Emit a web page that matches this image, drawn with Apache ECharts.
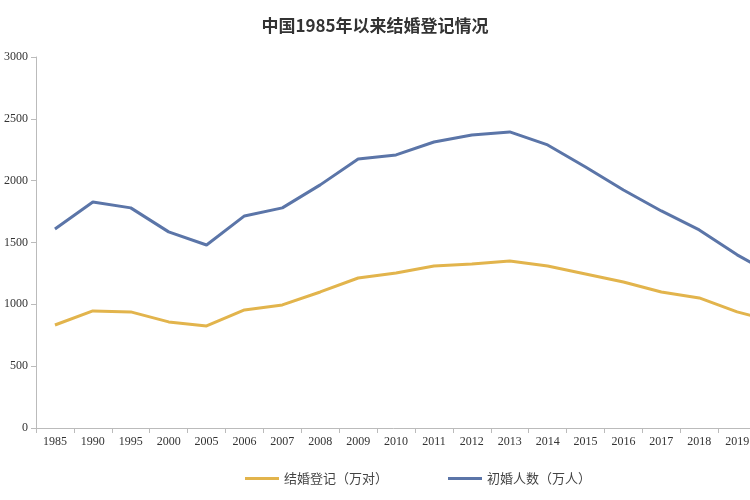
<!DOCTYPE html>
<html>
<head>
<meta charset="UTF-8">
<script src="https://cdn.jsdelivr.net/npm/echarts@6/dist/echarts.min.js"></script>
<style>
  html, body { margin: 0; padding: 0; background: #fff; }
  #chart { width: 750px; height: 500px; }
</style>
</head>
<body>
<div id="chart"></div>
<script>
// 年份（2020 在图片右边界外，仅露出一部分）
var years = ['1985','1990','1995','2000','2005','2006','2007','2008','2009','2010',
             '2011','2012','2013','2014','2015','2016','2017','2018','2019','2020'];
var marriageReg = [833, 947, 939, 858, 825, 955, 995, 1100, 1213, 1254,
                   1310, 1327, 1351, 1310, 1246, 1181, 1100, 1052, 939, 860];
var firstMarriage = [1609, 1828, 1780, 1586, 1480, 1715, 1780, 1966, 2176, 2208,
                     2313, 2370, 2394, 2289, 2111, 1925, 1755, 1602, 1400, 1230];

var chart = echarts.init(document.getElementById('chart'));
chart.setOption({
    animation: false,
    textStyle: { fontFamily: 'Liberation Serif, Noto Sans CJK SC' },
    title: {
        text: '中国1985年以来结婚登记情况',
        left: 'center', top: 12,
        textStyle: { fontSize: 17, fontWeight: 'bold', color: '#333', fontFamily: 'Noto Sans CJK SC' }
    },
    legend: {
        bottom: 10, left: 240, itemWidth: 34, itemGap: 60,
        icon: 'rect', itemHeight: 3,
        textStyle: { fontSize: 13, color: '#444', fontFamily: 'Noto Sans CJK SC' },
        data: ['结婚登记（万对）', '初婚人数（万人）']
    },
    grid: { left: 36, width: 758, top: 57, bottom: 72, outerBoundsMode: 'none', containLabel: false },
    xAxis: {
        type: 'category', data: years,
        axisLine: { lineStyle: { color: '#bbb' } },
        axisTick: { show: true, lineStyle: { color: '#bbb' } },
        axisLabel: { color: '#333', fontSize: 12, interval: 0 }
    },
    yAxis: {
        type: 'value', min: 0, max: 3000, interval: 500,
        axisLine: { show: true, lineStyle: { color: '#bbb' } },
        axisTick: { show: true, lineStyle: { color: '#bbb' } },
        splitLine: { show: false },
        axisLabel: { color: '#333', fontSize: 12, formatter: function (v) { return String(v); } }
    },
    series: [
        { name: '结婚登记（万对）', type: 'line', data: marriageReg, symbol: 'none',
          lineStyle: { color: '#e2b44c', width: 3 }, itemStyle: { color: '#e2b44c' } },
        { name: '初婚人数（万人）', type: 'line', data: firstMarriage, symbol: 'none',
          lineStyle: { color: '#5b75a8', width: 3 }, itemStyle: { color: '#5b75a8' } }
    ]
});
</script>
</body>
</html>
